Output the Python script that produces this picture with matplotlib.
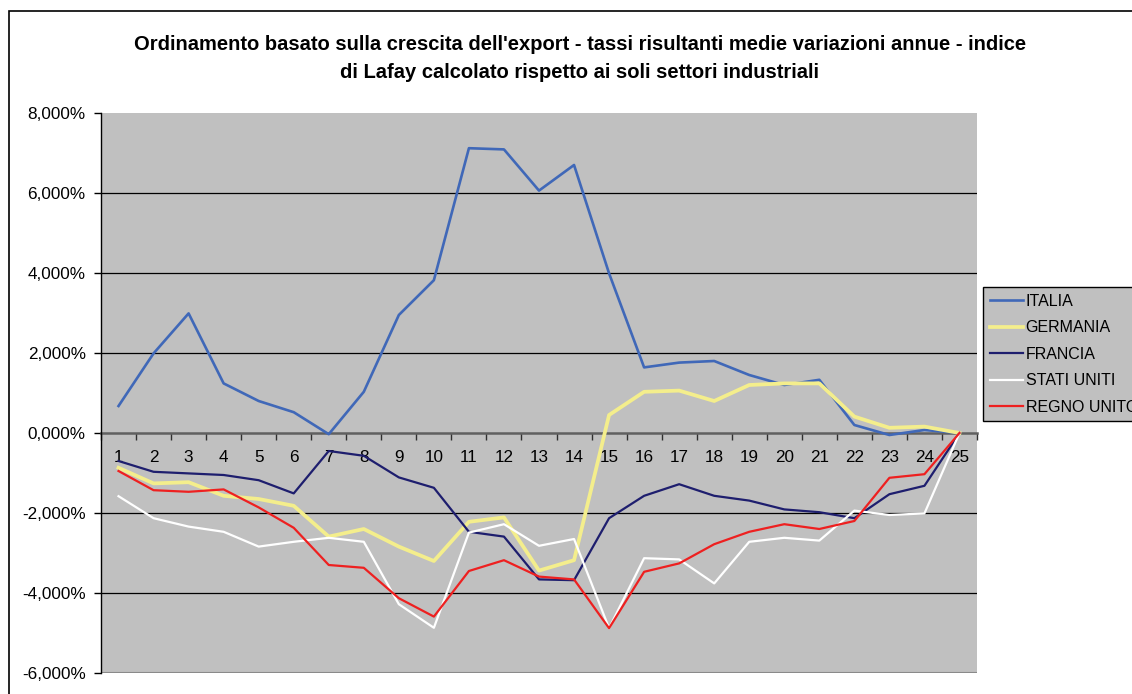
import matplotlib.pyplot as plt
from matplotlib.patches import Rectangle
from matplotlib.ticker import FuncFormatter, MultipleLocator, FixedLocator

plt.rcParams["font.family"] = ["Liberation Sans", "DejaVu Sans"]

categories = list(range(1, 26))
italia = [0.675, 1.99, 2.99, 1.24, 0.80, 0.52, -0.03, 1.03, 2.95, 3.82, 7.12, 7.09, 6.06,
          6.70, 3.99, 1.64, 1.76, 1.80, 1.45, 1.20, 1.33, 0.20, -0.05, 0.075, 0.0]
germania = [-0.87, -1.26, -1.23, -1.57, -1.65, -1.82, -2.59, -2.40, -2.84, -3.20, -2.22, -2.11, -3.44,
            -3.18, 0.45, 1.03, 1.06, 0.80, 1.20, 1.24, 1.24, 0.41, 0.13, 0.16, 0.0]
francia = [-0.70, -0.97, -1.01, -1.05, -1.18, -1.51, -0.45, -0.57, -1.11, -1.37, -2.47, -2.59, -3.66,
           -3.68, -2.13, -1.57, -1.28, -1.57, -1.69, -1.91, -1.98, -2.13, -1.53, -1.32, 0.0]
stati_uniti = [-1.58, -2.13, -2.34, -2.47, -2.84, -2.72, -2.62, -2.72, -4.28, -4.87, -2.49, -2.28, -2.82,
               -2.65, -4.88, -3.13, -3.16, -3.76, -2.72, -2.62, -2.69, -1.94, -2.05, -2.01, 0.0]
regno_unito = [-0.95, -1.43, -1.47, -1.41, -1.86, -2.37, -3.30, -3.37, -4.13, -4.59, -3.45, -3.18, -3.59,
               -3.66, -4.88, -3.47, -3.26, -2.78, -2.47, -2.28, -2.40, -2.20, -1.12, -1.03, 0.0]

series = [
    ("ITALIA", italia, "#4068B8", 1.9),
    ("GERMANIA", germania, "#F4EE8C", 2.7),
    ("FRANCIA", francia, "#1E1E6E", 1.6),
    ("STATI UNITI", stati_uniti, "#FFFFFF", 1.6),
    ("REGNO UNITO", regno_unito, "#EE2020", 1.6),
]

W, H = 1132, 694
fig = plt.figure(figsize=(W / 100, H / 100), dpi=100)
fig.patch.set_facecolor("white")

# chart border (runs off the right and bottom edges, like the source)
fig.patches.append(Rectangle((9 / W, -0.1), 1.2, 1 - 11 / H + 0.1, transform=fig.transFigure,
                             fill=False, edgecolor="black", linewidth=1.2))

ax = fig.add_axes([101 / W, 1 - 673 / H, 876 / W, 560 / H])
ax.set_facecolor("#C0C0C0")

for y in [-4, -2, 2, 4, 6]:
    ax.axhline(y, color="black", linewidth=0.9, zorder=1)
ax.axhline(-6, color="#8A8A8A", linewidth=1.5, zorder=1)

for name, vals, col, lw in series:
    ax.plot(categories, vals, color=col, linewidth=lw, label=name, zorder=3)

ax.set_xlim(0.5, 25.5)
ax.set_ylim(-6, 8)

ax.spines["top"].set_visible(False)
ax.spines["right"].set_visible(False)
ax.spines["left"].set_color("black")
ax.spines["left"].set_linewidth(1.0)
ax.spines["bottom"].set_position(("data", 0))
ax.spines["bottom"].set_color("#606060")
ax.spines["bottom"].set_linewidth(1.8)
ax.spines["bottom"].set_zorder(2)

ax.yaxis.set_major_locator(MultipleLocator(2))
ax.yaxis.set_major_formatter(FuncFormatter(lambda v, p: f"{v:.3f}%".replace(".", ",")))
ax.tick_params(axis="y", direction="out", length=5, width=1, labelsize=12.3, pad=6)

ax.xaxis.set_major_locator(FixedLocator(categories))
ax.set_xticklabels([str(c) for c in categories])
ax.xaxis.set_minor_locator(FixedLocator([c + 0.5 for c in range(0, 26)]))
ax.tick_params(axis="x", which="major", length=0, labelsize=12.3, pad=12)
ax.tick_params(axis="x", which="minor", direction="out", length=5, width=1, color="#303030")

fig.text(580 / W, 1 - 45 / H, "Ordinamento basato sulla crescita dell'export - tassi risultanti medie variazioni annue - indice",
         ha="center", va="center", fontsize=14.5, fontweight="bold")
fig.text(580 / W, 1 - 72 / H, "di Lafay calcolato rispetto ai soli settori industriali",
         ha="center", va="center", fontsize=14.5, fontweight="bold")

leg = fig.legend(loc="upper left", bbox_to_anchor=(983 / W, 1 - 287 / H), fontsize=11.5,
                 frameon=True, fancybox=False, facecolor="#C0C0C0", edgecolor="black",
                 handlelength=2.1, handletextpad=0.15, labelspacing=0.72, borderpad=0.42,
                 borderaxespad=0)
leg.get_frame().set_linewidth(1.0)
leg.get_frame().set_alpha(1)

fig.savefig("out.png", dpi=100)
